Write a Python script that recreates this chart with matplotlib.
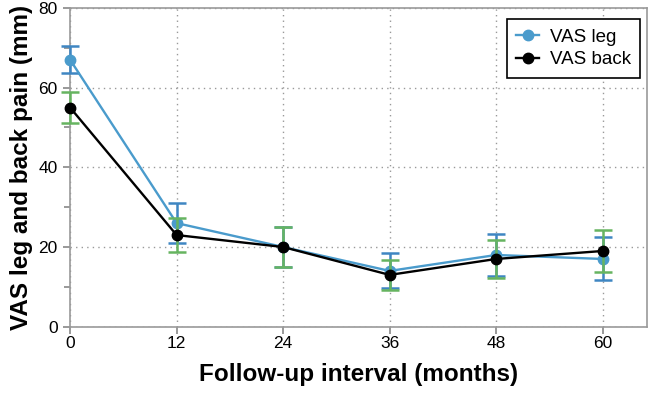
import matplotlib.pyplot as plt

months = [0, 12, 24, 36, 48, 60]
vas_leg = [67, 26, 20, 14, 18, 17]
vas_leg_err = [3.4, 5.1, 4.9, 4.4, 5.3, 5.4]
vas_back = [55, 23, 20, 13, 17, 19]
vas_back_err = [4.0, 4.3, 4.9, 3.8, 4.7, 5.2]

plt.rcParams['font.family'] = ['Liberation Sans', 'DejaVu Sans']

fig = plt.figure(figsize=(6.49, 3.96), dpi=100)
ax = fig.add_axes([0.108, 0.175, 0.889, 0.805])

blue = '#4a9bcc'
blue_err = '#3f86c2'
green = '#66b460'

ax.errorbar(months, vas_leg, yerr=vas_leg_err, fmt='none', ecolor=blue_err,
            elinewidth=1.8, capsize=6.5, capthick=1.8, zorder=3, clip_on=False)
ax.plot(months, vas_leg, '-o', color=blue, lw=1.7, ms=7.5, label='VAS leg',
        zorder=4, clip_on=False)
ax.errorbar(months, vas_back, yerr=vas_back_err, fmt='none', ecolor=green,
            elinewidth=1.8, capsize=6.5, capthick=1.8, zorder=5, clip_on=False)
ax.plot(months, vas_back, '-o', color='black', lw=1.7, ms=7.5, label='VAS back',
        zorder=6, clip_on=False)

ax.set_xlim(0, 65)
ax.set_ylim(0, 80)
ax.set_xticks(months)
ax.set_yticks([0, 20, 40, 60, 80])
ax.set_yticks([10, 30, 50, 70], minor=True)
ax.tick_params(axis='both', which='major', direction='out', length=5,
               width=1.2, color='#888888', labelsize=12.5)
ax.tick_params(axis='x', pad=2)
ax.tick_params(axis='y', pad=4)
ax.tick_params(axis='y', which='minor', direction='out', length=4,
               width=1.2, color='#888888')

for s in ax.spines.values():
    s.set_color('#999999')
    s.set_linewidth(1.2)

ax.grid(True, which='major', linestyle=(0, (1, 3)), color='#999999', lw=1)
ax.set_axisbelow(True)

ax.set_xlabel('Follow-up interval (months)', fontsize=17.5, fontweight='bold', labelpad=8)
ax.set_ylabel('VAS leg and back pain (mm)', fontsize=17.5, fontweight='bold', labelpad=4)

leg = ax.legend(loc='upper right', fontsize=13.5, frameon=True, fancybox=False,
                edgecolor='black', framealpha=1, handlelength=1.25,
                borderpad=0.5, handletextpad=0.55, labelspacing=0.3,
                borderaxespad=0, bbox_to_anchor=(0.988, 0.965))
leg.get_frame().set_linewidth(1.2)

fig.savefig('out.png', dpi=100)
